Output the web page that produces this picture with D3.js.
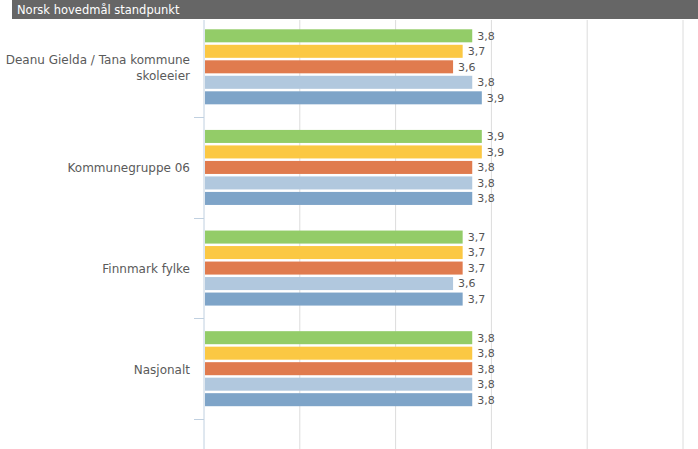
<!DOCTYPE html>
<html>
<head>
<meta charset="utf-8">
<script src="https://cdn.jsdelivr.net/npm/d3@7"></script>
<style>
  body { margin: 0; background: #fff; }
  svg { display: block; font-family: "DejaVu Sans", Verdana, sans-serif; }
</style>
</head>
<body>
<div id="chart"></div>
<script>
// ---------- DATA ----------
const title = "Norsk hovedmål standpunkt";
const categories = [
  ["Deanu Gielda / Tana kommune", "skoleeier"],
  ["Kommunegruppe 06"],
  ["Finnmark fylke"],
  ["Nasjonalt"]
];
const seriesA = [3.8, 3.9, 3.7, 3.8];
const seriesB = [3.7, 3.9, 3.7, 3.8];
const seriesC = [3.6, 3.8, 3.7, 3.8];
const seriesD = [3.8, 3.8, 3.6, 3.8];
const seriesE = [3.9, 3.8, 3.7, 3.8];
const series = [seriesA, seriesB, seriesC, seriesD, seriesE];
const colors = ["#93cc68", "#fbc843", "#e07b4e", "#b1c8de", "#7ea4c8"];
const gridTicks = [1, 2, 3, 4, 5, 6];

// ---------- DRAW ----------
const W = 698, H = 449;
const svg = d3.select("#chart").append("svg")
  .attr("width", W)
  .attr("height", H);

// title bar
svg.append("rect")
  .attr("x", 12).attr("y", 0)
  .attr("width", W - 12).attr("height", 19)
  .attr("fill", "#666");
svg.append("text")
  .attr("x", 17).attr("y", 13.5)
  .attr("fill", "#fff")
  .style("font-size", "11.5px")
  .text(title);

const x = d3.scaleLinear().domain([1, 6]).range([204, 683]);
const y = d3.scaleBand().domain(d3.range(categories.length)).range([16.5, 419]);
const inner = d3.scaleBand().domain(d3.range(series.length))
  .range([0, 77.5]).paddingInner(0.16).paddingOuter(0.08);

// grid lines
svg.selectAll(".grid")
  .data(gridTicks.slice(1))
  .enter()
  .append("line")
  .attr("x1", d => x(d)).attr("x2", d => x(d))
  .attr("y1", 20).attr("y2", H)
  .attr("stroke", "#dcdcdc")
  .attr("stroke-width", 1);

// category axis
svg.append("line")
  .attr("x1", x(1)).attr("x2", x(1))
  .attr("y1", 20).attr("y2", H)
  .attr("stroke", "#c0d0e0");

svg.selectAll(".tick")
  .data(d3.range(categories.length))
  .enter()
  .append("line")
  .attr("x1", x(1) - 10).attr("x2", x(1))
  .attr("y1", d => Math.round(y(d) + y.bandwidth()) + 0.5)
  .attr("y2", d => Math.round(y(d) + y.bandwidth()) + 0.5)
  .attr("stroke", "#c0d0e0");

// bars
const groups = svg.selectAll(".cat")
  .data(categories)
  .enter()
  .append("g")
  .attr("transform", (d, i) => `translate(0,${y(i) + y.bandwidth() / 2 - 38.75})`);

groups.each(function (cat, ci) {
  const g = d3.select(this);
  const vals = series.map(s => s[ci]);

  g.selectAll("rect")
    .data(vals)
    .enter()
    .append("rect")
    .attr("x", x(1) + 1)
    .attr("y", (d, si) => inner(si))
    .attr("width", d => x(d) - x(1) - 1)
    .attr("height", inner.bandwidth())
    .attr("fill", (d, si) => colors[si]);

  g.selectAll(".val")
    .data(vals)
    .enter()
    .append("text")
    .attr("x", d => x(d) + 5)
    .attr("y", (d, si) => inner(si) + inner.bandwidth() / 2)
    .attr("dy", "0.35em")
    .attr("fill", "#555")
    .style("font-size", "11px")
    .text(d => d3.format(".1f")(d).replace(".", ","));

  // label
  const lab = g.append("text")
    .attr("text-anchor", "end")
    .attr("fill", "#5a5a5a")
    .style("font-size", "12px");
  const mid = 39.5;
  const lh = 16;
  cat.forEach((line, li) => {
    lab.append("tspan")
      .attr("x", 190)
      .attr("y", mid + (li - (cat.length - 1) / 2) * lh)
      .attr("dy", "0.35em")
      .text(line);
  });
});
</script>
</body>
</html>
